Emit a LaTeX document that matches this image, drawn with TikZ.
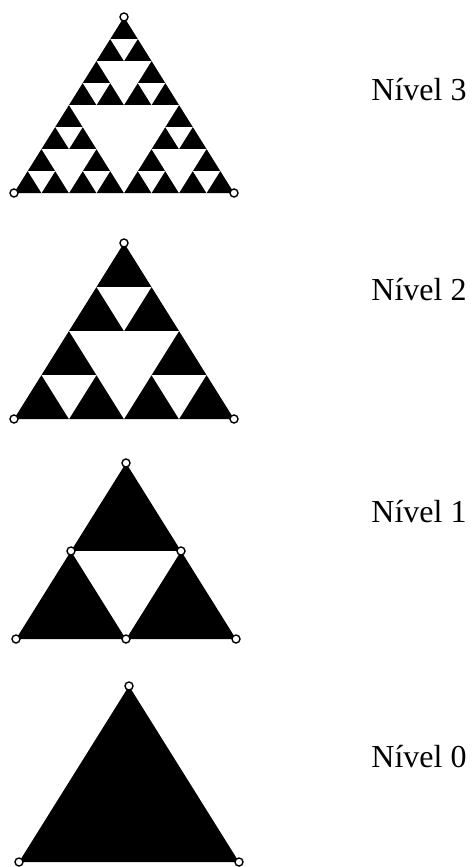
\documentclass[tikz,border=0pt]{standalone}
\usepackage{fontspec}
\setmainfont{Liberation Serif}

\begin{document}
\begin{tikzpicture}[
  x=0.5pt, y=-0.5pt,
  tri/.style={x={(110pt,0pt)}, y={(55pt,88pt)}},
  vtx/.style={circle, draw, fill=white, line width=0.7pt, inner sep=0pt, minimum size=4pt},
  hole/.style={fill=white},
  lvl/.style={anchor=base west, inner sep=0pt, font=\fontsize{16}{19}\selectfont},
]
\useasboundingbox (0,0) rectangle (473,867);

% === NIVEL 3 ===
\begin{scope}[shift={(14,193)}, tri]
  \fill (0,0) -- (1,0) -- (0,1) -- cycle;
  \foreach \u/\v/\s in {0/0/1, 0/0/.5, .5/0/.5, 0/.5/.5,
      0/0/.25, .25/0/.25, 0/.25/.25, .5/0/.25, .75/0/.25,
      .5/.25/.25, 0/.5/.25, .25/.5/.25, 0/.75/.25}
    \fill[hole] (\u+\s/2,\v) -- (\u,\v+\s/2) -- (\u+\s/2,\v+\s/2) -- cycle;
  \node[vtx] (n3top)   at (0,1) {};
  \node[vtx] (n3left)  at (0,0) {};
  \node[vtx] (n3right) at (1,0) {};
\end{scope}
\node[lvl] (lab3) at (371,100) {Nível 3};

% === NIVEL 2 ===
\begin{scope}[shift={(14,419)}, tri]
  \fill (0,0) -- (1,0) -- (0,1) -- cycle;
  \foreach \u/\v/\s in {0/0/1, 0/0/.5, .5/0/.5, 0/.5/.5}
    \fill[hole] (\u+\s/2,\v) -- (\u,\v+\s/2) -- (\u+\s/2,\v+\s/2) -- cycle;
  \node[vtx] (n2top)   at (0,1) {};
  \node[vtx] (n2left)  at (0,0) {};
  \node[vtx] (n2right) at (1,0) {};
\end{scope}
\node[lvl] (lab2) at (371,300) {Nível 2};

% === NIVEL 1 ===
\begin{scope}[shift={(16,639)}, tri]
  \fill (0,0) -- (1,0) -- (0,1) -- cycle;
  \fill[hole] (.5,0) -- (0,.5) -- (.5,.5) -- cycle;
  \node[vtx] (n1top)    at (0,1) {};
  \node[vtx] (n1left)   at (0,0) {};
  \node[vtx] (n1right)  at (1,0) {};
  \node[vtx] (n1bot)    at (.5,0) {};
  \node[vtx] (n1midl)   at (0,.5) {};
  \node[vtx] (n1midr)   at (.5,.5) {};
\end{scope}
\node[lvl] (lab1) at (371,522) {Nível 1};

% === NIVEL 0 ===
\begin{scope}[shift={(19,862)}, tri]
  \fill (0,0) -- (1,0) -- (0,1) -- cycle;
  \node[vtx] (n0top)   at (0,1) {};
  \node[vtx] (n0left)  at (0,0) {};
  \node[vtx] (n0right) at (1,0) {};
\end{scope}
\node[lvl] (lab0) at (371,767) {Nível 0};
\end{tikzpicture}
\end{document}
